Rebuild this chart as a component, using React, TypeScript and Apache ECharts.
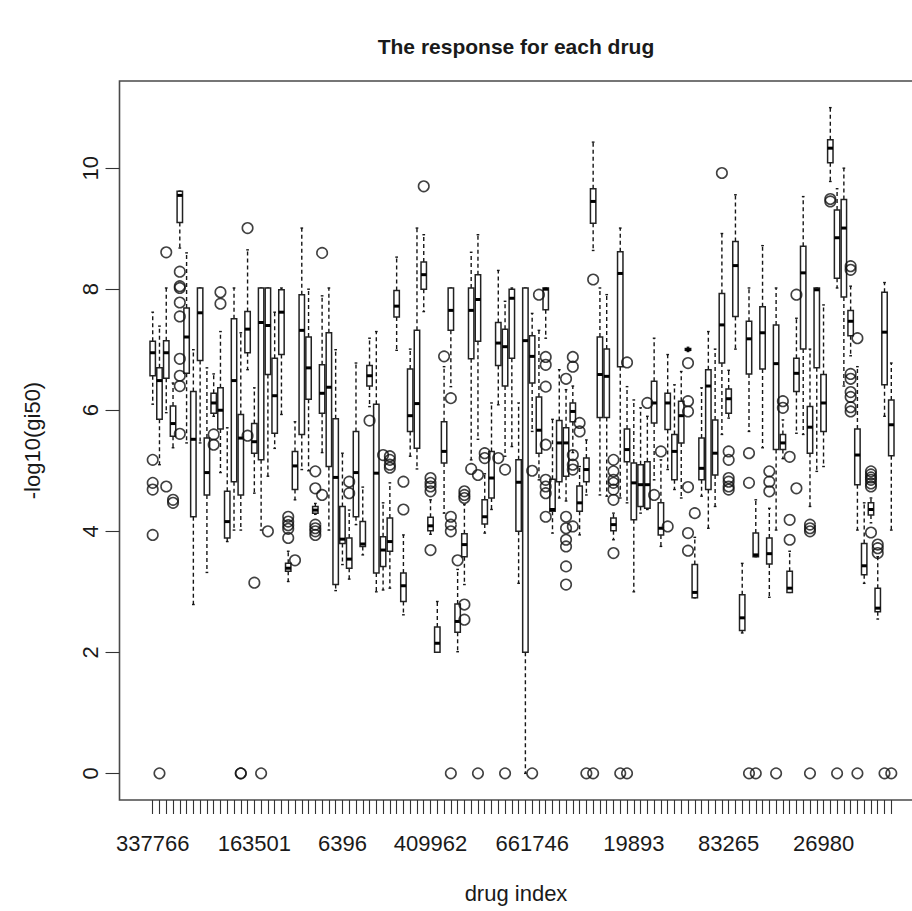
import React, { useEffect, useRef } from 'react';
import * as echarts from 'echarts';

// Five-number summaries per drug (whisker ends and hinges), in drug order 1..110
const lowWhisker = [
  6.10, 5.10, 5.96, 5.38, 8.68, 5.46, 2.79, 5.46, 3.32, 5.90,
  4.97, 3.83, 4.02, 4.02, 6.67, 4.63, 4.02, 4.91, 5.37, 5.93,
  3.17, 4.52, 5.02, 5.00, 4.28, 5.30, 4.02, 3.02, 3.45, 3.21,
  4.11, 3.61, 6.06, 3.00, 3.03, 3.06, 6.99, 2.62, 5.24, 5.03,
  7.63, 3.95, 2.00, 4.30, 6.39, 2.01, 3.12, 5.18, 5.52, 3.97,
  4.36, 6.09, 5.24, 5.40, 3.14, 0.00, 5.65, 4.85, 7.19, 3.97,
  4.55, 4.50, 5.30, 3.94, 4.60, 8.64, 4.60, 4.58, 3.86, 4.55,
  4.47, 3.00, 4.30, 4.36, 4.85, 3.75, 5.02, 4.69, 4.55, 6.97,
  2.90, 4.58, 4.05, 4.41, 5.60, 5.87, 7.01, 2.32, 5.65, 3.58,
  5.38, 2.91, 4.02, 5.20, 2.99, 5.62, 5.60, 4.41, 4.99, 5.07,
  9.78, 8.02, 6.40, 6.90, 4.02, 3.14, 4.14, 2.55, 5.90, 4.02,
];
const lowerHinge = [
  6.57, 5.85, 6.53, 5.57, 9.10, 6.61, 4.24, 6.82, 4.60, 5.95,
  5.69, 3.89, 4.82, 4.60, 6.95, 5.29, 5.18, 6.59, 5.62, 6.92,
  3.34, 4.69, 5.60, 6.18, 4.30, 5.95, 5.07, 3.12, 3.80, 3.39,
  4.24, 3.75, 6.40, 3.31, 3.42, 3.67, 7.54, 2.84, 5.65, 5.37,
  8.00, 4.01, 2.00, 5.13, 7.32, 2.33, 3.58, 6.85, 7.14, 4.12,
  4.55, 6.74, 6.40, 6.86, 4.00, 2.00, 6.45, 5.29, 7.66, 4.33,
  4.82, 4.91, 5.81, 4.33, 4.82, 9.09, 5.88, 5.88, 4.01, 6.72,
  5.15, 4.19, 4.41, 4.38, 5.79, 3.94, 5.68, 4.85, 5.46, 6.99,
  2.90, 4.85, 4.69, 4.93, 6.78, 5.95, 7.55, 2.36, 6.60, 3.58,
  6.68, 3.46, 5.35, 5.35, 2.99, 6.31, 7.01, 5.29, 6.70, 5.65,
  10.09, 8.18, 7.87, 7.23, 4.77, 3.28, 4.27, 2.67, 6.42, 5.25,
];
const medians = [
  6.95, 6.49, 6.95, 5.78, 9.55, 7.21, 5.52, 7.61, 4.97, 6.12,
  6.00, 4.16, 6.49, 5.54, 7.34, 5.48, 7.45, 7.40, 6.24, 7.62,
  3.39, 5.08, 7.32, 6.70, 4.35, 6.28, 6.38, 4.89, 3.87, 3.54,
  4.97, 3.79, 6.57, 4.96, 3.69, 3.83, 7.72, 3.10, 5.91, 6.11,
  8.24, 4.09, 2.15, 5.32, 7.65, 2.51, 3.78, 7.65, 7.83, 4.24,
  4.88, 7.11, 7.05, 7.85, 4.81, 7.15, 6.89, 5.67, 8.00, 4.36,
  5.46, 5.46, 5.98, 4.47, 5.02, 9.45, 6.59, 6.56, 4.11, 8.26,
  5.35, 4.80, 4.77, 4.77, 6.12, 4.05, 6.12, 5.32, 5.91, 7.00,
  2.99, 5.04, 6.40, 5.29, 7.41, 6.19, 8.39, 2.57, 7.18, 3.61,
  7.28, 3.63, 6.77, 5.46, 3.06, 6.61, 8.27, 5.72, 7.99, 6.12,
  10.33, 8.85, 9.01, 7.47, 5.26, 3.43, 4.36, 2.73, 7.29, 5.76,
];
const upperHinge = [
  7.14, 6.70, 7.15, 6.07, 9.62, 7.69, 6.31, 8.02, 5.54, 6.28,
  6.37, 4.66, 7.51, 5.93, 7.63, 5.78, 8.02, 8.02, 6.86, 7.99,
  3.47, 5.32, 7.91, 7.21, 4.41, 6.75, 7.28, 5.86, 4.41, 3.89,
  5.65, 4.16, 6.74, 6.10, 3.91, 4.22, 7.98, 3.31, 6.68, 7.32,
  8.45, 4.23, 2.42, 5.81, 8.02, 2.80, 3.96, 8.02, 8.24, 4.52,
  5.32, 7.45, 7.34, 8.00, 5.18, 8.02, 7.23, 6.22, 8.02, 4.86,
  5.83, 5.71, 6.12, 4.75, 5.21, 9.66, 7.21, 7.01, 4.22, 8.62,
  5.69, 5.13, 5.10, 5.15, 6.48, 4.47, 6.28, 5.60, 6.15, 7.02,
  3.45, 5.54, 6.67, 5.84, 7.93, 6.35, 8.79, 2.95, 7.47, 3.97,
  7.71, 3.89, 7.41, 5.60, 3.34, 6.86, 8.71, 6.06, 8.02, 6.59,
  10.47, 9.31, 9.48, 7.65, 5.69, 3.80, 4.47, 3.06, 7.95, 6.17,
];
const highWhisker = [
  7.62, 7.39, 8.02, 6.45, 9.62, 8.60, 7.00, 8.02, 6.70, 6.60,
  7.30, 5.71, 8.02, 7.28, 8.65, 6.37, 8.02, 8.02, 7.62, 8.02,
  3.67, 5.81, 9.01, 8.00, 4.46, 7.89, 8.02, 7.00, 5.29, 4.35,
  6.78, 4.73, 7.19, 7.30, 4.47, 4.80, 8.53, 3.94, 7.01, 9.01,
  8.90, 4.52, 2.84, 6.72, 8.02, 3.37, 4.44, 8.61, 8.90, 4.95,
  6.12, 8.31, 7.80, 8.02, 6.12, 8.02, 7.60, 7.32, 8.02, 5.85,
  6.67, 6.34, 6.40, 5.07, 5.51, 10.43, 8.02, 7.91, 4.30, 9.01,
  6.39, 6.17, 6.04, 5.90, 7.19, 5.18, 6.92, 6.42, 6.64, 7.04,
  3.90, 6.37, 7.30, 7.01, 8.92, 6.66, 9.56, 3.47, 8.02, 4.52,
  8.72, 4.38, 8.02, 5.84, 3.67, 7.52, 9.53, 7.01, 8.02, 7.74,
  11.00, 9.66, 10.00, 8.05, 6.72, 4.47, 4.55, 3.58, 8.11, 6.78,
];

// Points beyond the whiskers: [drug position, values]
const outliers: [number, number[]][] = [
  [1, [5.18, 4.80, 4.69, 3.94]],
  [2, [0]],
  [3, [8.61, 4.74]],
  [4, [4.52, 4.47]],
  [5, [8.29, 8.05, 8.02, 7.78, 7.55, 6.85, 6.57, 6.40, 5.61]],
  [10, [5.60, 5.43]],
  [11, [7.95, 7.76]],
  [14, [0, 0]],
  [15, [9.01, 5.58]],
  [16, [3.15]],
  [17, [0]],
  [18, [4.00]],
  [21, [4.24, 4.16, 4.10, 4.04, 3.89]],
  [22, [3.52]],
  [25, [4.99, 4.71, 4.11, 4.05, 4.00, 3.94]],
  [26, [8.60, 4.60]],
  [30, [4.82, 4.63]],
  [33, [5.83]],
  [35, [5.26]],
  [36, [5.24, 5.18, 5.10, 5.05]],
  [38, [4.82, 4.36]],
  [41, [9.70]],
  [42, [4.88, 4.80, 4.74, 4.66, 3.69]],
  [44, [6.89]],
  [45, [6.20, 4.24, 4.11, 4.00, 0]],
  [46, [3.52]],
  [47, [4.66, 4.60, 4.55, 2.79, 2.54]],
  [48, [5.03]],
  [49, [4.93, 0]],
  [50, [5.29, 5.21]],
  [52, [5.21]],
  [53, [5.02, 0]],
  [57, [5.00, 0]],
  [58, [7.91]],
  [59, [6.88, 6.75, 6.39, 5.43, 4.85, 4.74, 4.63, 4.24]],
  [62, [6.52, 4.24, 4.05, 3.86, 3.75, 3.42, 3.12]],
  [63, [6.88, 6.72, 5.26, 5.10, 5.02, 4.08]],
  [64, [5.79, 5.65]],
  [65, [0]],
  [66, [8.16, 0]],
  [69, [5.18, 4.99, 4.85, 4.80, 4.69, 4.52, 3.64]],
  [70, [0]],
  [71, [6.79, 0]],
  [74, [6.12]],
  [75, [4.60]],
  [76, [5.32]],
  [77, [4.08]],
  [80, [6.78, 6.15, 5.98, 4.73, 3.97, 3.68]],
  [81, [4.30]],
  [85, [9.92]],
  [86, [5.32, 5.18, 4.88, 4.82, 4.74, 4.69]],
  [89, [5.29, 4.80, 0]],
  [90, [0]],
  [92, [4.99, 4.82, 4.66]],
  [93, [0]],
  [94, [6.15, 6.04]],
  [95, [5.23, 4.19, 3.86]],
  [96, [7.91, 4.71]],
  [98, [4.11, 4.05, 4.00, 0]],
  [101, [9.49, 9.45]],
  [102, [0]],
  [104, [8.38, 8.32, 6.60, 6.52, 6.30, 6.22, 6.05, 5.98]],
  [105, [7.19, 0]],
  [107, [4.99, 4.94, 4.89, 4.85, 4.79, 4.74, 3.98]],
  [108, [3.78, 3.72, 3.64]],
  [109, [0]],
  [110, [0]],
];

// Drug ids printed under the axis, and the positions they sit at
const drugLabels = ['337766', '163501', '6396', '409962', '661746', '19893', '83265', '26980'];
const drugLabelPositions = [1, 16, 29, 42, 57, 72, 86, 100];
const yTicks = [0, 2, 4, 6, 8, 10];

const FONT = '"Liberation Sans", Arial, Helvetica, sans-serif';
const INK = '#1a1a1a';

export default function App() {
  const ref = useRef<HTMLDivElement>(null);

  useEffect(() => {
    if (!ref.current) return;
    const chart = echarts.init(ref.current, null, { renderer: 'svg' });
    const n = medians.length;
    const pad = 0.04 * n;
    const positions = medians.map((_, i) => i + 1);
    const boxData = medians.map((m, i) => [i + 1, lowWhisker[i], lowerHinge[i], m, upperHinge[i], highWhisker[i]]);
    const outlierData = outliers.flatMap(([pos, vals]) => vals.map((v) => [pos, v]));
    const labelFor = (v: number) => {
      const k = drugLabelPositions.indexOf(Math.round(v));
      return k >= 0 ? drugLabels[k] : '';
    };

    const dashed = { stroke: '#161616', lineWidth: 1.4, lineDash: [4, 3] };
    const solid = { stroke: '#161616', lineWidth: 1.4 };

    chart.setOption({
      animation: false,
      backgroundColor: '#fff',
      grid: { left: 119.5, top: 81, width: 805, height: 719, outerBoundsMode: 'none', containLabel: false,
        show: true, borderColor: '#4a4a4a', borderWidth: 1.6, backgroundColor: 'transparent' },
      xAxis: {
        type: 'value',
        min: 0.5 - pad,
        max: n + 0.5 + pad,
        splitLine: { show: false },
        axisLine: { show: false, onZero: false },
        axisTick: { show: true, inside: false, length: 14, customValues: positions, lineStyle: { color: '#333', width: 1.1 } },
        axisLabel: { customValues: drugLabelPositions, formatter: labelFor, margin: 32,
          fontFamily: FONT, fontSize: 22, color: INK },
      },
      yAxis: {
        type: 'value',
        min: -0.44,
        max: 11.44,
        splitLine: { show: false },
        axisLine: { show: false, onZero: false },
        axisTick: { show: true, inside: false, length: 14, customValues: yTicks, lineStyle: { color: '#333', width: 1.1 } },
        axisLabel: { customValues: yTicks, rotate: 90, margin: 18, fontFamily: FONT, fontSize: 22, color: INK },
        name: '-log10(gi50)',
        nameLocation: 'middle',
        nameRotate: 90,
        nameGap: 76,
        nameTextStyle: { fontFamily: FONT, fontSize: 22, color: INK },
      },
      graphic: [
        { type: 'text', x: 516, y: 46, style: { text: 'The response for each drug', font: `bold 21px ${FONT}`,
          fill: INK, textAlign: 'center', textVerticalAlign: 'middle' } },
        { type: 'text', x: 516, y: 893, style: { text: 'drug index', font: `22px ${FONT}`,
          fill: INK, textAlign: 'center', textVerticalAlign: 'middle' } },
      ],
      series: [
        {
          type: 'custom',
          coordinateSystem: 'cartesian2d',
          silent: true,
          clip: false,
          encode: { x: 0, y: [1, 2, 3, 4, 5] },
          data: boxData,
          renderItem: (_params: any, api: any) => {
            const x = api.value(0);
            const lo = api.coord([x, api.value(1)]);
            const h1 = api.coord([x, api.value(2)]);
            const md = api.coord([x, api.value(3)]);
            const h3 = api.coord([x, api.value(4)]);
            const hi = api.coord([x, api.value(5)]);
            const w = api.size([1, 0])[0] * 0.8;
            const cx = lo[0];
            const half = w / 2;
            const cap = w / 4;
            return {
              type: 'group',
              children: [
                { type: 'line', shape: { x1: cx, y1: h3[1], x2: cx, y2: hi[1] }, style: dashed },
                { type: 'line', shape: { x1: cx, y1: h1[1], x2: cx, y2: lo[1] }, style: dashed },
                { type: 'line', shape: { x1: cx - cap, y1: hi[1], x2: cx + cap, y2: hi[1] }, style: solid },
                { type: 'line', shape: { x1: cx - cap, y1: lo[1], x2: cx + cap, y2: lo[1] }, style: solid },
                { type: 'rect', shape: { x: cx - half, y: h3[1], width: w, height: Math.max(h1[1] - h3[1], 0.5) },
                  style: { fill: '#fff', stroke: '#222', lineWidth: 1.5 } },
                { type: 'line', shape: { x1: cx - half, y1: md[1], x2: cx + half, y2: md[1] },
                  style: { stroke: '#000', lineWidth: 3 } },
              ],
            };
          },
        },
        {
          type: 'scatter',
          silent: true,
          z: 3,
          symbol: 'circle',
          symbolSize: 10.5,
          itemStyle: { color: 'rgba(0,0,0,0)', borderColor: '#111', borderWidth: 1.6 },
          data: outlierData,
        },
      ],
    });
    return () => chart.dispose();
  }, []);

  return <div ref={ref} style={{ position: 'absolute', left: 0, top: 0, width: 912, height: 911 }} />;
}
